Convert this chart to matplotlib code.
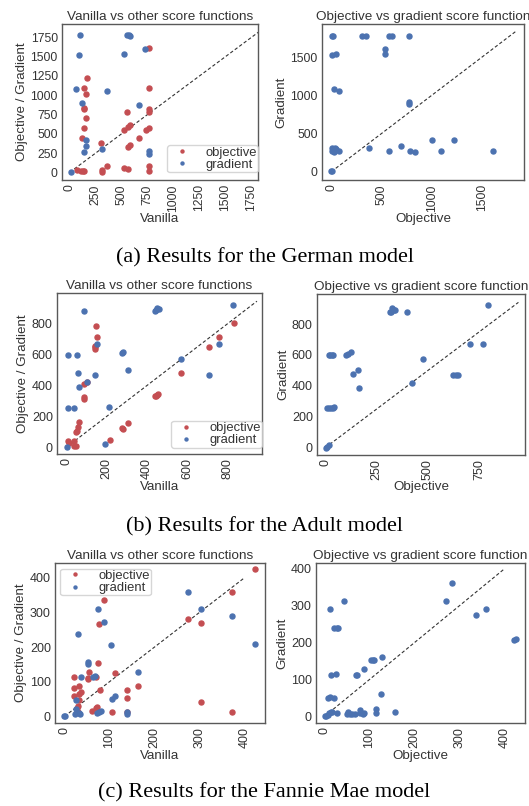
import numpy as np
import matplotlib
matplotlib.use('Agg')
import matplotlib.pyplot as plt

RED = '#C44E52'
BLUE = '#4C72B0'

# German model
german_van_obj_x = [167, 135, 161, 138, 140, 154, 135, 119, 305, 312, 312, 360, 74, 106, 138, 125,
                    521, 563, 556, 563, 585, 524, 563, 585, 669, 733, 768, 768, 768, 768, 768, 768, 768]
german_van_obj_y = [1219, 1088, 1010, 836, 828, 701, 575, 444, 379, 30, 0, 87, 35, 13, 13, 15,
                    57, 39, 784, 588, 610, 544, 327, 348, 444, 544, 1611, 1088, 827, 784, 575, 78, 13]
german_van_grad_x = [96, 90, 64, 116, 161, 161, 138, 312, 363, 521, 553, 572, 585, 669, 730, 768, 768, 10]
german_van_grad_y = [1776, 1519, 1075, 905, 414, 335, 261, 305, 1053, 1532, 1776, 1776, 1772, 879, 1598,
                     270, 240, 0]
german_obj = [7, 20, 10, 46, 23, 80, 0, 3, 10, 33, 50, 23, 10, 40, 73, 309, 342, 531, 531, 574, 607,
              770, 770, 375, 574, 690, 773, 787, 830, 1006, 1089, 1221, 1610]
german_grad = [1780, 1780, 1526, 1539, 1080, 1058, 4, 10, 306, 312, 297, 261, 275, 290, 270, 1780,
               1776, 1605, 1539, 1780, 1776, 910, 883, 315, 271, 337, 1780, 271, 262, 415, 271, 415, 271]

# Adult model
adult_van_obj_x = [149, 152, 140, 140, 143, 102, 86, 86, 89, 63, 56, 50, 53, 7, 12, 36, 40, 50, 215,
                   277, 281, 307, 441, 447, 452, 457, 569, 708, 756, 830]
adult_van_obj_y = [783, 712, 653, 638, 646, 423, 410, 323, 315, 164, 132, 99, 104, 43, 28, 39, 11, 11,
                   45, 125, 119, 157, 330, 335, 340, 347, 481, 647, 712, 804]
adult_van_grad_x = [3, 10, 51, 8, 40, 58, 63, 86, 102, 140, 152, 193, 213, 274, 279, 305, 441, 452,
                    459, 447, 568, 705, 756, 828]
adult_van_grad_y = [0, 599, 599, 257, 257, 479, 388, 880, 420, 470, 668, 19, 261, 610, 614, 500, 884,
                    901, 892, 888, 571, 470, 671, 923]
adult_obj = [3, 8, 19, 16, 24, 32, 40, 8, 18, 27, 36, 45, 102, 113, 126, 133, 159, 165, 316, 325, 333,
             340, 320, 400, 421, 475, 624, 635, 645, 702, 770, 794]
adult_grad = [0, 6, 17, 599, 599, 599, 599, 259, 259, 259, 259, 265, 599, 606, 617, 476, 500, 388,
              880, 901, 890, 892, 875, 880, 420, 571, 470, 470, 470, 671, 668, 923]

# Fannie Mae model
fannie_van_obj_x = [22, 21, 21, 33, 33, 37, 33, 30, 28, 30, 28, 53, 53, 55, 62, 70, 73, 70, 75, 76,
                    78, 88, 105, 113, 139, 139, 139, 164, 274, 304, 304, 373, 373, 424]
fannie_van_obj_y = [113, 83, 58, 87, 66, 71, 48, 29, 24, 12, 12, 108, 112, 127, 15, 113, 26, 25, 154,
                    268, 77, 335, 12, 125, 77, 53, 14, 87, 282, 270, 41, 359, 12, 425]
fannie_van_grad_x = [0, 2, 25, 26, 24, 30, 37, 35, 33, 52, 53, 64, 68, 73, 77, 81, 75, 87, 104, 105,
                     113, 139, 139, 164, 274, 304, 373, 424]
fannie_van_grad_y = [0, 2, 48, 21, 6, 239, 113, 8, 10, 151, 156, 114, 116, 10, 13, 16, 311, 274, 205,
                     51, 60, 12, 8, 127, 359, 311, 291, 210]
fannie_obj = [1, 4, 7, 10, 14, 16, 7, 13, 20, 13, 15, 22, 27, 31, 25, 27, 44, 50, 53, 57, 61, 68, 70,
              72, 78, 79, 85, 87, 88, 103, 107, 110, 114, 115, 126, 127, 156, 270, 283, 337, 359, 422, 426]
fannie_grad = [0, 2, 5, 9, 11, 13, 50, 52, 50, 291, 113, 239, 239, 239, 116, 9, 312, 7, 11, 7, 7, 7,
               113, 111, 16, 9, 7, 9, 129, 152, 152, 152, 20, 9, 61, 160, 13, 312, 362, 274, 291, 206, 210]

plt.rcParams['font.family'] = ['Liberation Sans', 'DejaVu Sans']
plt.rcParams['text.color'] = '0.2'
plt.rcParams['axes.labelcolor'] = '0.2'
plt.rcParams['xtick.color'] = '0.2'
plt.rcParams['ytick.color'] = '0.2'

W, H = 529, 806
fig = plt.figure(figsize=(W / 100, H / 100), dpi=100)


def make_axes(x0, y0, x1, y1):
    return fig.add_axes([x0 / W, 1 - y1 / H, (x1 - x0) / W, (y1 - y0) / H])


def style(ax, title, xlabel, ylabel, xlim, ylim, xticks, yticks, diag, tick_size=9.0):
    ax.plot([0, diag], [0, diag], ls=(0, (3, 2)), color='0.2', lw=0.8, zorder=1)
    ax.set_title(title, fontsize=9.7, pad=3)
    ax.set_xlabel(xlabel, fontsize=9.6, labelpad=1)
    ax.set_ylabel(ylabel, fontsize=9.6, labelpad=2)
    ax.set_xlim(*xlim)
    ax.set_ylim(*ylim)
    ax.set_xticks(xticks)
    ax.set_yticks(yticks)
    ax.tick_params(axis='x', labelrotation=90, labelsize=tick_size, length=0, pad=3)
    ax.tick_params(axis='y', labelsize=tick_size, length=0, pad=3)
    for s in ax.spines.values():
        s.set_color('0.35')
        s.set_linewidth(1.0)


def left_panel(ax, vx, vy, gx, gy, loc, anchor):
    ax.plot(vx, vy, 'o', color=RED, ms=3.6, label='objective', zorder=2)
    ax.plot(gx, gy, 'o', color=BLUE, ms=3.6, label='gradient', zorder=2)
    leg = ax.legend(loc=loc, bbox_to_anchor=anchor, fontsize=9.4, markerscale=0.6,
                    handletextpad=0.8, borderpad=0.1, labelspacing=0.0,
                    borderaxespad=0.0, framealpha=0.8)
    leg.get_frame().set_edgecolor('0.8')


def right_panel(ax, ox, gy):
    ax.plot(ox, gy, 'o', color=BLUE, ms=3.6, zorder=2)


# row (a)
ax = make_axes(62, 24, 258, 180)
left_panel(ax, german_van_obj_x, german_van_obj_y, german_van_grad_x, german_van_grad_y,
           'lower right', (1.0, 0.05))
style(ax, 'Vanilla vs other score functions', 'Vanilla', 'Objective / Gradient',
      (-75, 1815), (-100, 1925), np.arange(0, 1751, 250), np.arange(0, 1751, 250), 1820, 8.7)
ax = make_axes(322, 24, 524, 180)
right_panel(ax, german_obj, german_grad)
style(ax, 'Objective vs gradient score function', 'Objective', 'Gradient',
      (-93, 1918), (-109, 1933), [0, 500, 1000, 1500], [0, 500, 1000, 1500], 1832, 8.7)

# row (b)
ax = make_axes(57, 293, 262, 454)
left_panel(ax, adult_van_obj_x, adult_van_obj_y, adult_van_grad_x, adult_van_grad_y,
           'lower right', (1.0, 0.04))
style(ax, 'Vanilla vs other score functions', 'Vanilla', 'Objective / Gradient',
      (-46, 970), (-43, 998), [0, 200, 400, 600, 800], [0, 200, 400, 600, 800], 945)
ax = make_axes(317, 294, 525, 455)
right_panel(ax, adult_obj, adult_grad)
style(ax, 'Objective vs gradient score function', 'Objective', 'Gradient',
      (-40, 972), (-47, 994), [0, 250, 500, 750], [0, 200, 400, 600, 800], 940)

# row (c)
ax = make_axes(55, 563, 265, 723)
left_panel(ax, fannie_van_obj_x, fannie_van_obj_y, fannie_van_grad_x, fannie_van_grad_y,
           'upper left', (0.025, 0.965))
style(ax, 'Vanilla vs other score functions', 'Vanilla', 'Objective / Gradient',
      (-21, 446), (-19, 443), [0, 100, 200, 300, 400], [0, 100, 200, 300, 400], 398)
ax = make_axes(316, 563, 525, 723)
right_panel(ax, fannie_obj, fannie_grad)
style(ax, 'Objective vs gradient score function', 'Objective', 'Gradient',
      (-19, 446), (-18, 416), [0, 100, 200, 300, 400], [0, 100, 200, 300, 400], 399)

captions = ['(a) Results for the German model', '(b) Results for the Adult model',
            '(c) Results for the Fannie Mae model']
for cap, yc in zip(captions, [258, 527, 793]):
    fig.text(0.5, 1 - yc / H, cap, ha='center', va='center', fontsize=16,
             family='Liberation Serif', color='black')

fig.savefig('out.png', dpi=100)
